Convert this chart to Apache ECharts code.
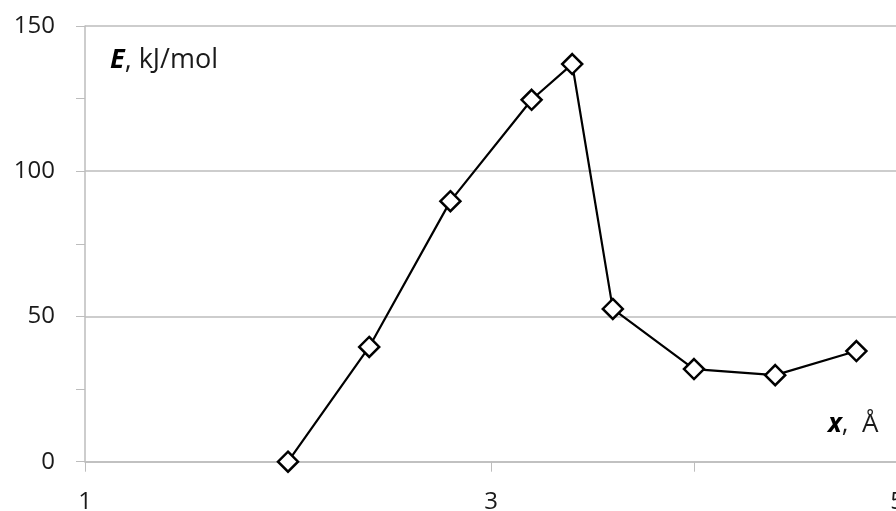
<!DOCTYPE html>
<html>
<head>
<meta charset="utf-8">
<script src="https://cdn.jsdelivr.net/npm/echarts@6/dist/echarts.min.js"></script>
<style>
  html, body { margin: 0; padding: 0; background: #fff; }
  #chart { width: 896px; height: 511px; }
</style>
</head>
<body>
<div id="chart"></div>
<script>
// Distance x (Å) and energy E (kJ/mol)
const distances = [2.0, 2.4, 2.8, 3.2, 3.4, 3.6, 4.0, 4.4, 4.8];
const energies = [0, 39.5, 89.7, 124.6, 136.9, 52.6, 31.9, 29.8, 38.1];
const xLabelValues = [1, 3, 5];
const yLabelValues = [0, 50, 100, 150];

const FONT = '"Open Sans", "Noto Sans", sans-serif';
const GRAY = '#bdbdbd';

const chart = echarts.init(document.getElementById('chart'));
chart.setOption({
  animation: false,
  backgroundColor: '#fff',
  grid: { left: 85, top: 26, width: 812, height: 435.7, containLabel: false, outerBoundsMode: 'none' },
  xAxis: {
    type: 'value', min: 1, max: 5, interval: 1,
    axisLine: { show: true, onZero: false, lineStyle: { color: GRAY, width: 1.5 } },
    axisTick: { show: true, length: 10, lineStyle: { color: GRAY, width: 1 } },
    splitLine: { show: false },
    axisLabel: {
      margin: 28, color: '#1a1a1a', fontSize: 24, fontFamily: FONT,
      formatter: v => xLabelValues.includes(v) ? String(v) : '',
      showMaxLabel: true
    }
  },
  yAxis: {
    type: 'value', min: 0, max: 150, interval: 50,
    axisLine: { show: true, lineStyle: { color: GRAY, width: 1.5 } },
    axisTick: { show: true, length: 9, lineStyle: { color: GRAY, width: 1 } },
    minorTick: { show: true, splitNumber: 2, length: 9, lineStyle: { color: GRAY, width: 1 } },
    splitLine: { show: true, lineStyle: { color: GRAY, width: 1.5 } },
    axisLabel: {
      margin: 30, color: '#1a1a1a', fontSize: 24, fontFamily: FONT,
      formatter: v => yLabelValues.includes(v) ? String(v) : ''
    }
  },
  series: [{
    type: 'line',
    data: distances.map((x, i) => [x, energies[i]]),
    symbol: 'diamond',
    symbolSize: 20,
    showAllSymbol: true,
    lineStyle: { color: '#000', width: 2.2 },
    itemStyle: { color: '#fff', borderColor: '#000', borderWidth: 2.5 },
    z: 5
  }],
  graphic: [
    {
      type: 'text', left: 110, top: 47,
      style: {
        text: '{b|E}{n|, kJ/mol}',
        rich: {
          b: { fontSize: 27, fontWeight: 'bold', fontStyle: 'italic', fontFamily: FONT, fill: '#000' },
          n: { fontSize: 27, fontFamily: FONT, fill: '#1a1a1a' }
        }
      }
    },
    {
      type: 'text', left: 828, top: 412,
      style: {
        text: '{b|x}{n|,  Å}',
        rich: {
          b: { fontSize: 26, fontWeight: 'bold', fontStyle: 'italic', fontFamily: FONT, fill: '#000' },
          n: { fontSize: 26, fontFamily: FONT, fill: '#1a1a1a' }
        }
      }
    }
  ]
});
</script>
</body>
</html>
